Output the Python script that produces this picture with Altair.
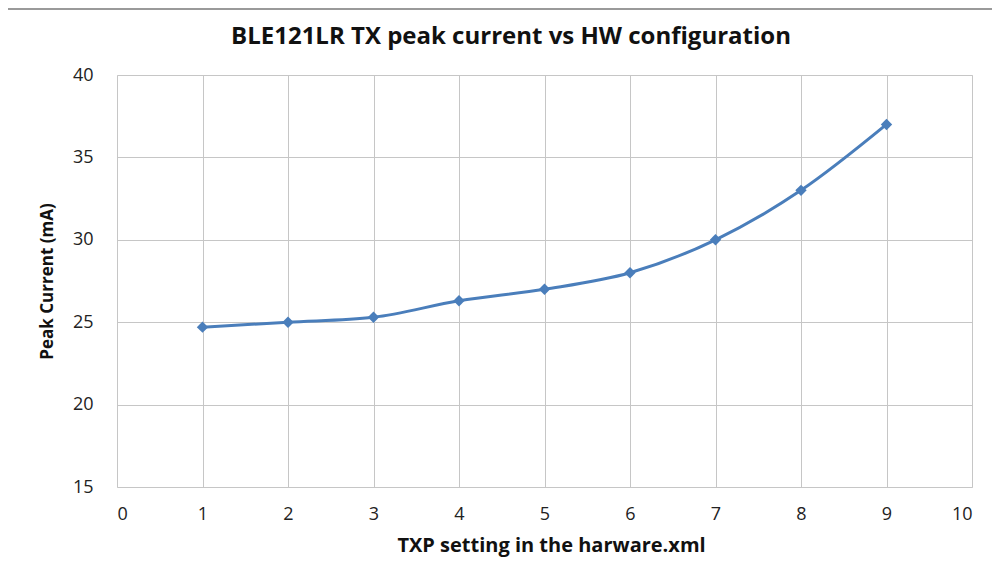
import altair as alt
import pandas as pd

txp = [1, 2, 3, 4, 5, 6, 7, 8, 9]
current = [24.7, 25.0, 25.3, 26.3, 27.0, 28.0, 30.0, 33.0, 37.0]
x_ticks = [0, 1, 2, 3, 4, 5, 6, 7, 8, 9, 10]
y_ticks = [15, 20, 25, 30, 35, 40]
title_text = ["BLE121LR TX peak current vs HW configuration"]

df = pd.DataFrame({"txp": txp, "current": current})
tdf = pd.DataFrame({"t": title_text})

FONT = "Open Sans"
BLUE = "#4a7ebb"
GRID = "#c6c6c6"

x_enc = alt.X("txp:Q",
              scale=alt.Scale(domain=[0, 10], nice=False, zero=False),
              axis=alt.Axis(values=x_ticks, format="d", title="TXP setting in the harware.xml",
                            grid=True, gridColor=GRID, domain=False, ticks=False,
                            labelFontSize=18, labelPadding=18, labelColor="#222",
                            labelFont=FONT, titleFont=FONT, titleFontSize=20,
                            titleFontWeight="bold", titleColor="#111",
                            titleX=434, titleY=58, titleAlign="center",
                            titleBaseline="middle"))
y_enc = alt.Y("current:Q",
              scale=alt.Scale(domain=[15, 40], nice=False, zero=False),
              axis=alt.Axis(values=y_ticks, format="d", title="Peak Current (mA)",
                            grid=True, gridColor=GRID, domain=False, ticks=False,
                            labelFontSize=18, labelPadding=24, labelColor="#222",
                            labelFont=FONT, titleFont=FONT, titleFontSize=17,
                            titleFontWeight="bold", titleColor="#111",
                            titleX=-70, titleY=206, titleAngle=-90,
                            titleAlign="center", titleBaseline="middle"))

line = alt.Chart(df).mark_line(color=BLUE, strokeWidth=3, interpolate="monotone").encode(
    x=x_enc, y=y_enc)
pts = alt.Chart(df).mark_point(shape="diamond", filled=True, color=BLUE, size=130,
                               opacity=1).encode(x="txp:Q", y="current:Q")

title = alt.Chart(tdf).mark_text(font=FONT, fontSize=24, fontWeight="bold", color="#111",
                                 align="center", baseline="middle").encode(
    text="t:N", x=alt.value(394), y=alt.value(-38))

border_top = alt.Chart(tdf).mark_rule(color="#9a9a9a", strokeWidth=2).encode(
    x=alt.value(-111), x2=alt.value(880), y=alt.value(-66))
border_left = alt.Chart(tdf).mark_rule(color="#9a9a9a", strokeWidth=2).encode(
    x=alt.value(-110), y=alt.value(-66), y2=alt.value(500))

chart = alt.layer(border_top, border_left, title, line, pts).properties(
    width=855, height=412,
    autosize=alt.AutoSizeParams(type="none"),
    padding={"left": 109, "top": 67, "right": 20, "bottom": 82},
).configure_view(stroke=GRID).configure(background="white")

chart.save("out.html", embed_options={"renderer": "svg", "actions": False})
